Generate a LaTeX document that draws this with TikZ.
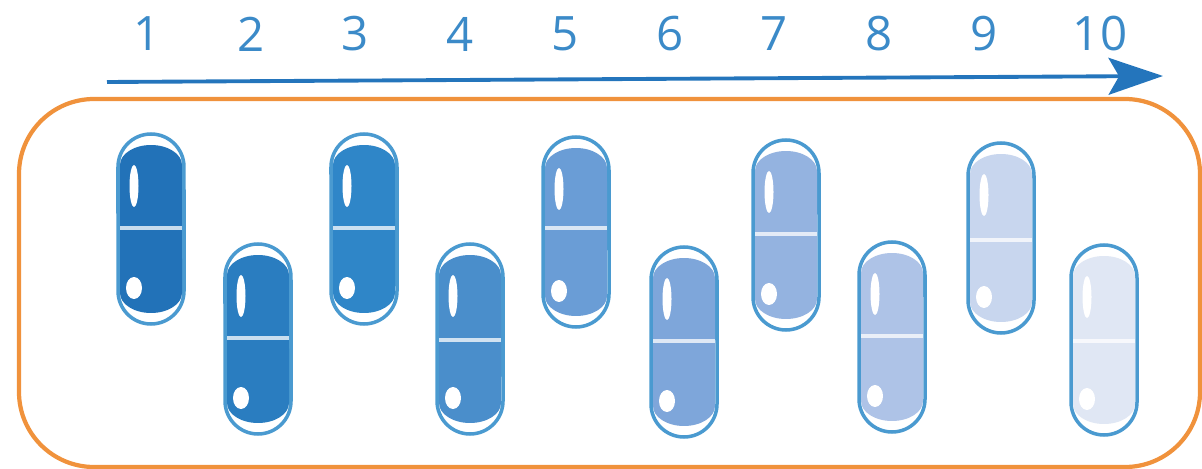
\documentclass[tikz,border=0pt]{standalone}
\usepackage{fontspec}
\setmainfont{Open Sans}
\usetikzlibrary{arrows.meta}
\definecolor{pill1}{HTML}{2272B8}
\definecolor{pill2}{HTML}{2A7DC0}
\definecolor{pill3}{HTML}{2F86C8}
\definecolor{pill4}{HTML}{4A8ECB}
\definecolor{pill5}{HTML}{6A9DD6}
\definecolor{pill6}{HTML}{7EA6DA}
\definecolor{pill7}{HTML}{94B3E0}
\definecolor{pill8}{HTML}{AEC3E7}
\definecolor{pill9}{HTML}{C8D6EE}
\definecolor{pill10}{HTML}{E0E7F4}
\definecolor{rimblue}{HTML}{4A9AD0}
\definecolor{arrowblue}{HTML}{2475BC}
\definecolor{numblue}{HTML}{3B8AC8}
\definecolor{boxorange}{HTML}{F0923C}
\tikzset{
  numlabel/.style={text=numblue, inner sep=0pt, font=\fontsize{27}{30}\selectfont},
  pillrim/.style={draw=rimblue, fill=white, line width=2pt},
  shine/.style={fill=white, draw=none},
}
\begin{document}
\begin{tikzpicture}[x=0.02cm, y=-0.02cm]
  \useasboundingbox (0,0) rectangle (1202,469);
  % outer frame
  \draw[boxorange, line width=2.4pt, rounded corners=1.5cm] (19,99) rectangle (1200,467);
  % time arrow
  \coordinate (arrowstart) at (107,82);
  \coordinate (arrowend) at (1163,76);
  \draw[arrowblue, line width=2.2pt, -{Stealth[length=31pt, width=21pt, inset=6pt]}] (arrowstart) -- (arrowend);
  \foreach \n/\x in {1/147,2/251,3/355,4/460,5/565,6/670,7/774,8/879,9/984,10/1100}
    \node[numlabel] (num\n) at (\x,34) {\n};
  % capsules: number / centre x / top / divider
  \foreach \n/\x/\t/\m in {1/151/133/228,2/258/243/338,3/364/133/228,4/470/243/340,5/576/136/228,
      6/684/246/341,7/786/139/234,8/892/241/336,9/1001/142/240,10/1104/244/341} {
    \begin{scope}[shift={(\x,\t)}]
      \draw[pillrim] (-33,34) arc[start angle=180, end angle=0, radius=0.66cm]
        -- (33,158) arc[start angle=0, end angle=-180, radius=0.66cm] -- cycle;
      \fill[pill\n] (-31,32) arc[start angle=180, end angle=0, x radius=0.62cm, y radius=0.4cm]
        -- (31,160) arc[start angle=0, end angle=-180, x radius=0.62cm, y radius=0.4cm] -- cycle;
      \draw[white, opacity=0.75, line width=1.8pt] (-31,\m-\t) -- (31,\m-\t);
      \fill[shine] (-17,53) ellipse[x radius=0.09cm, y radius=0.42cm];
      \fill[shine] (-17,155) ellipse[x radius=0.16cm, y radius=0.22cm];
    \end{scope}
  }
\end{tikzpicture}
\end{document}
